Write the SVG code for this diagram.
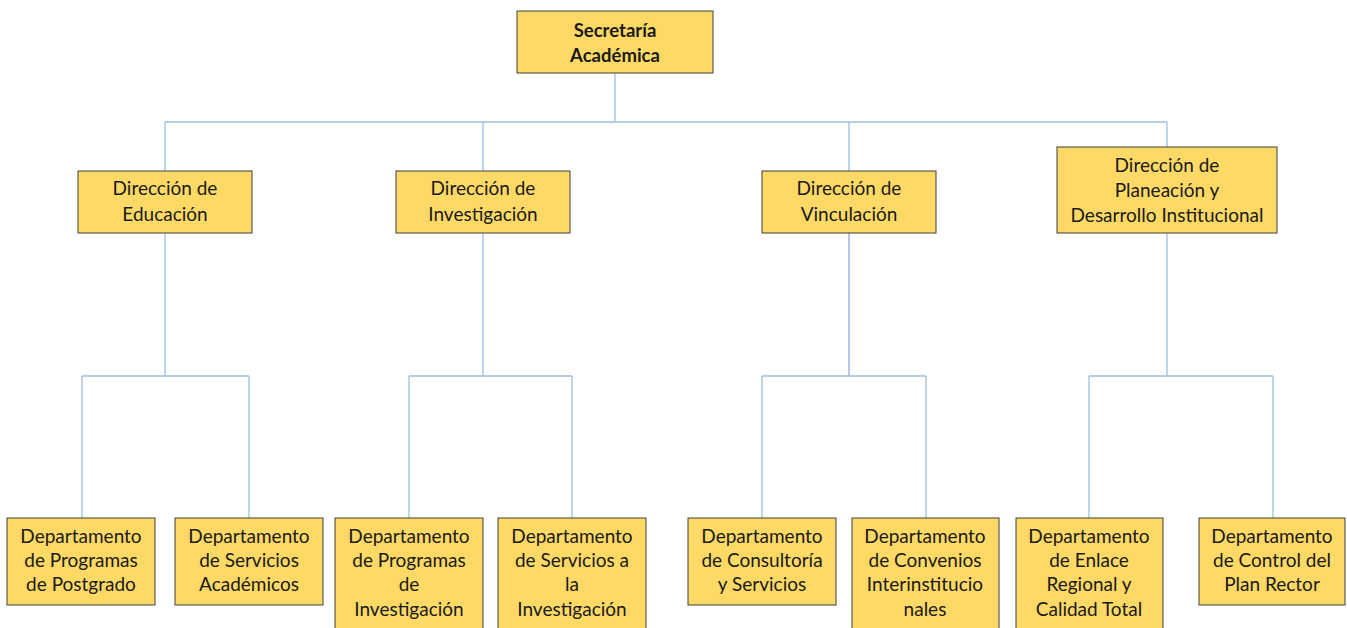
<svg xmlns="http://www.w3.org/2000/svg" width="1347" height="628" viewBox="0 0 1347 628">
<style>
.box{fill:#FFD966;stroke:#3F3F3F;stroke-width:1}
.t{font-family:Lato,"Liberation Sans",sans-serif;font-size:19px;fill:#1a1a1a;text-anchor:middle}
.b{font-weight:bold;font-size:18.5px}
.c{fill:none;stroke:#9DBFDF;stroke-width:1.3}
</style>
<rect width="1347" height="628" fill="#fff"/>
<g id="connectors">
<path class="c" d="M615 73V122M165 122H1167M165 122V171M483 122V171M1167 122V147"/>
<path class="c" d="M849 122V171"/>
<path class="c" d="M165 233V376M82 376H249M82 376V518M249 376V518"/>
<path class="c" d="M483 233V376M409 376H572M409 376V518M572 376V518"/>
<path class="c" d="M849 233V376" style="stroke:#8FAAE0"/>
<path class="c" d="M762 376H926M762 376V518M926 376V518"/>
<path class="c" d="M1167 233V376M1089 376H1273M1089 376V518M1273 376V518"/>
</g>
<g id="secretaria"><rect class="box" x="517" y="11" width="196" height="62"/><text class="t b" x="615" y="37">Secretaría</text><text class="t b" x="615" y="62">Académica</text></g>
<g id="dir-educacion"><rect class="box" x="78" y="171" width="174" height="62"/><text class="t" x="165" y="195">Dirección de</text><text class="t" x="165" y="221">Educación</text></g>
<g id="dir-investigacion"><rect class="box" x="396" y="171" width="174" height="62"/><text class="t" x="483" y="195">Dirección de</text><text class="t" x="483" y="221">Investigación</text></g>
<g id="dir-vinculacion"><rect class="box" x="762" y="171" width="174" height="62"/><text class="t" x="849" y="195">Dirección de</text><text class="t" x="849" y="221">Vinculación</text></g>
<g id="dir-planeacion"><rect class="box" x="1057" y="147" width="220" height="86"/><text class="t" x="1167" y="172">Dirección de</text><text class="t" x="1167" y="197">Planeación y</text><text class="t" x="1167" y="222">Desarrollo Institucional</text></g>
<g id="dep-postgrado"><rect class="box" x="7" y="518" width="148" height="87"/><text class="t" x="81" y="543">Departamento</text><text class="t" x="81" y="567">de Programas</text><text class="t" x="81" y="591">de Postgrado</text></g>
<g id="dep-servicios-academicos"><rect class="box" x="175" y="518" width="148" height="87"/><text class="t" x="249" y="543">Departamento</text><text class="t" x="249" y="567">de Servicios</text><text class="t" x="249" y="591">Académicos</text></g>
<g id="dep-programas-investigacion"><rect class="box" x="335" y="518" width="148" height="130"/><text class="t" x="409" y="543">Departamento</text><text class="t" x="409" y="567">de Programas</text><text class="t" x="409" y="591">de</text><text class="t" x="409" y="616">Investigación</text></g>
<g id="dep-servicios-investigacion"><rect class="box" x="498" y="518" width="148" height="130"/><text class="t" x="572" y="543">Departamento</text><text class="t" x="572" y="567">de Servicios  a</text><text class="t" x="572" y="591">la</text><text class="t" x="572" y="616">Investigación</text></g>
<g id="dep-consultoria"><rect class="box" x="688" y="518" width="148" height="87"/><text class="t" x="762" y="543">Departamento</text><text class="t" x="762" y="567">de Consultoría</text><text class="t" x="762" y="591">y Servicios</text></g>
<g id="dep-convenios"><rect class="box" x="852" y="518" width="147" height="130"/><text class="t" x="925" y="543">Departamento</text><text class="t" x="925" y="567">de Convenios</text><text class="t" x="925" y="591">Interinstitucio</text><text class="t" x="925" y="616">nales</text></g>
<g id="dep-enlace"><rect class="box" x="1016" y="518" width="147" height="130"/><text class="t" x="1089" y="543">Departamento</text><text class="t" x="1089" y="567">de Enlace</text><text class="t" x="1089" y="591">Regional y</text><text class="t" x="1089" y="616">Calidad Total</text></g>
<g id="dep-control"><rect class="box" x="1199" y="518" width="146" height="87"/><text class="t" x="1272" y="543">Departamento</text><text class="t" x="1272" y="567">de Control del</text><text class="t" x="1272" y="591">Plan Rector</text></g>
</svg>
